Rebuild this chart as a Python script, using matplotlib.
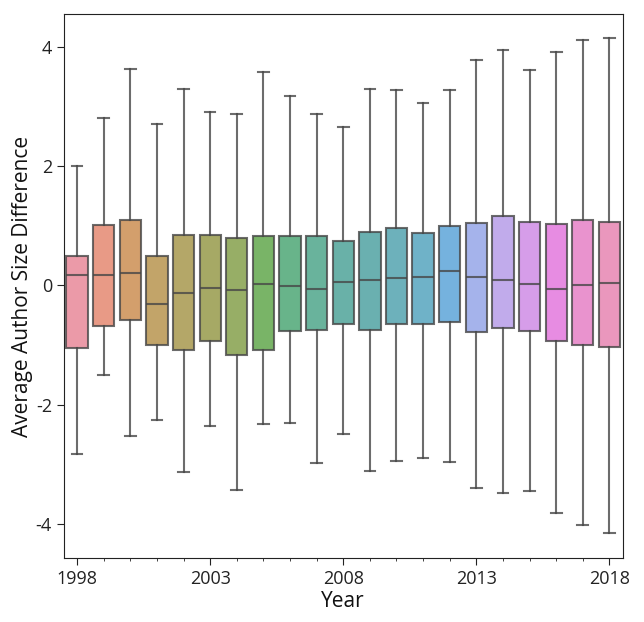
import matplotlib
matplotlib.use("Agg")
import matplotlib.pyplot as plt
import seaborn as sns
import numpy as np

plt.rcParams['font.family'] = ['Open Sans', 'Noto Sans', 'DejaVu Sans']

years = list(range(1998, 2019))
medians = [0.17, 0.17, 0.21, -0.31, -0.13, -0.04, -0.08, 0.02, -0.01, -0.06, 0.06,
           0.09, 0.12, 0.14, 0.24, 0.14, 0.09, 0.02, -0.06, 0.01, 0.04]
q1 = [-1.05, -0.68, -0.58, -1.00, -1.09, -0.94, -1.17, -1.09, -0.77, -0.74, -0.64,
      -0.74, -0.64, -0.64, -0.61, -0.79, -0.72, -0.76, -0.94, -1.00, -1.04]
q3 = [0.49, 1.01, 1.09, 0.50, 0.84, 0.84, 0.80, 0.82, 0.82, 0.82, 0.74,
      0.90, 0.96, 0.88, 0.99, 1.05, 1.16, 1.06, 1.03, 1.09, 1.06]
whis_lo = [-2.82, -1.51, -2.52, -2.26, -3.13, -2.35, -3.43, -2.32, -2.30, -2.97, -2.50,
           -3.11, -2.94, -2.89, -2.96, -3.39, -3.48, -3.45, -3.81, -4.02, -4.16]
whis_hi = [2.00, 2.81, 3.62, 2.71, 3.29, 2.91, 2.88, 3.57, 3.18, 2.88, 2.66,
           3.30, 3.27, 3.06, 3.27, 3.78, 3.95, 3.61, 3.92, 4.12, 4.14]

palette = sns.color_palette("husl", len(years), desat=0.75)

fig = plt.figure(figsize=(6.44, 6.22), dpi=100)
ax = fig.add_axes([0.099, 0.103, 0.868, 0.8745])

stats = []
for i, y in enumerate(years):
    stats.append(dict(label=str(y), med=medians[i], q1=q1[i], q3=q3[i],
                      whislo=whis_lo[i], whishi=whis_hi[i], fliers=[]))

gray = "#474747"
a = 0.8
positions = np.arange(len(years))
bp = ax.bxp(stats, positions=positions, widths=0.8, patch_artist=True,
            showfliers=False,
            boxprops=dict(edgecolor=gray, linewidth=1.5, alpha=a),
            medianprops=dict(color=gray, linewidth=1.5, alpha=a),
            whiskerprops=dict(color=gray, linewidth=1.5, alpha=a),
            capprops=dict(color=gray, linewidth=1.5, alpha=a))
for patch, c in zip(bp['boxes'], palette):
    patch.set_facecolor(c)

ax.set_xlim(-0.5, len(years) - 0.5)
ax.set_ylim(-4.57, 4.55)
ax.set_xticks(positions[::5])
ax.set_xticklabels([str(y) for y in years[::5]])
ax.set_xticks(positions, minor=True)
ax.set_yticks([-4, -2, 0, 2, 4])
ax.set_yticklabels(["-4", "-2", "0", "2", "4"])
ax.tick_params(axis='both', which='major', labelsize=13, length=5, colors='#222222')
ax.tick_params(axis='x', which='minor', length=2.5, color='#222222')
for s in ax.spines.values():
    s.set_color('#222222')
ax.set_xlabel("Year", fontsize=15, color='#111111', labelpad=2)
ax.set_ylabel("Average Author Size Difference", fontsize=15, color='#111111', labelpad=2)

fig.savefig("out.png", dpi=100)
